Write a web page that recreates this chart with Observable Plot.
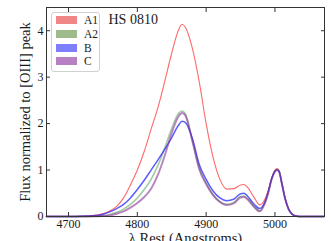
<!DOCTYPE html>
<html>
<head>
<meta charset="utf-8">
<script src="https://cdn.jsdelivr.net/npm/d3@7"></script>
<script src="https://cdn.jsdelivr.net/npm/@observablehq/plot@0.6"></script>
<style>
  html, body { margin: 0; padding: 0; background: #fff; }
  #wrap { position: relative; width: 331px; height: 241px; overflow: hidden; font-family: 'Liberation Serif', serif; }
  #wrap svg text { font-family: 'Liberation Serif', serif; }
  #legend { position: absolute; left: 51px; top: 12px; width: 49px; height: 60px; box-sizing: border-box;
    border: 1px solid #d0d0d0; border-radius: 3px; background: rgba(255,255,255,0.85); }
  .row { position: absolute; left: 4px; height: 8px; }
  .patch { position: absolute; left: 0; top: 0; width: 21px; height: 8px; }
  .lab { position: absolute; left: 28px; top: -3px; font-size: 11.5px; line-height: 14px; color: #1a1a1a; white-space: nowrap; font-family: 'Liberation Serif', serif; }
</style>
</head>
<body>
<div id="wrap"></div>
<script>
// ---- data ----
const wavelength = [4668, 4700, 4720, 4740, 4750, 4760, 4770, 4780, 4790, 4800, 4810, 4820, 4830, 4840, 4850, 4860, 4865, 4870, 4880, 4890, 4900, 4910, 4920, 4930, 4940, 4950, 4955, 4960, 4970, 4978, 4985, 4990, 4995, 5000, 5003, 5006, 5010, 5015, 5020, 5025, 5030, 5040, 5071];
const fluxA1 = [0, 0, 0.005, 0.03, 0.06, 0.12, 0.22, 0.40, 0.68, 1.00, 1.40, 1.88, 2.35, 2.92, 3.52, 4.02, 4.14, 4.07, 3.62, 2.90, 2.00, 1.28, 0.80, 0.59, 0.60, 0.68, 0.69, 0.63, 0.40, 0.25, 0.36, 0.55, 0.82, 1.00, 1.03, 0.99, 0.72, 0.38, 0.16, 0.05, 0.012, 0, 0];
const fluxA2 = [0, 0, 0.002, 0.01, 0.02, 0.045, 0.09, 0.16, 0.26, 0.40, 0.58, 0.80, 1.10, 1.48, 1.90, 2.22, 2.27, 2.20, 1.64, 1.04, 0.72, 0.47, 0.32, 0.26, 0.30, 0.43, 0.44, 0.39, 0.21, 0.12, 0.28, 0.50, 0.80, 0.98, 1.01, 0.98, 0.72, 0.38, 0.16, 0.05, 0.012, 0, 0];
const fluxB  = [0, 0, 0.004, 0.02, 0.05, 0.10, 0.17, 0.26, 0.40, 0.58, 0.78, 1.00, 1.22, 1.45, 1.70, 1.97, 2.05, 2.02, 1.68, 1.12, 0.80, 0.55, 0.40, 0.34, 0.37, 0.49, 0.50, 0.44, 0.26, 0.17, 0.30, 0.52, 0.80, 0.97, 1.00, 0.96, 0.71, 0.37, 0.15, 0.05, 0.012, 0, 0];
const fluxC  = [0, 0, 0, 0.005, 0.01, 0.025, 0.06, 0.11, 0.19, 0.29, 0.42, 0.60, 0.90, 1.32, 1.80, 2.16, 2.23, 2.17, 1.62, 1.02, 0.70, 0.46, 0.31, 0.245, 0.28, 0.41, 0.42, 0.37, 0.20, 0.11, 0.27, 0.49, 0.79, 0.97, 1.00, 0.97, 0.71, 0.37, 0.15, 0.05, 0.012, 0, 0];
const seriesNames = ["A1", "A2", "B", "C"];
const lineColors = ["#ff2a2a", "#2e8b2e", "#2525ff", "#8a3398"];
const legendColors = ["#f08686", "#9dbb8b", "#7f7ffd", "#b880c4"];
const xTicks = [4700, 4800, 4900, 5000];
const yTicks = [0, 1, 2, 3, 4];
const titleText = "HS 0810";
const xLabel = "λ Rest (Angstroms)";
const yLabel = "Flux normalized to [OIII] peak";

const fluxes = [fluxA1, fluxA2, fluxB, fluxC];
const rows = seriesNames.map((s, k) => wavelength.map((w, i) => ({w, f: fluxes[k][i], s})));
const widths = [1.1, 1.6, 1.5, 1.9];
const opac = [0.7, 0.45, 0.75, 0.6];

const ink = "#1a1a1a";
const serif = "'Liberation Serif', serif";
const chart = Plot.plot({
  width: 331, height: 241,
  marginLeft: 46, marginRight: 7, marginTop: 7, marginBottom: 25,
  x: {domain: [4668, 5072]},
  y: {domain: [0, 4.5]},
  style: {fontFamily: serif, fontSize: "12px", color: ink, background: "white", overflow: "visible"},
  marks: [
    ...rows.map((r, k) => Plot.line(r, {x: "w", y: "f", stroke: lineColors[k], strokeWidth: widths[k], strokeOpacity: opac[k], curve: "monotone-x"})),
    Plot.frame({stroke: "#333", strokeWidth: 1}),
    Plot.axisX(xTicks, {anchor: "bottom", tickSize: -4, tickPadding: 7, tickFormat: d => String(d), label: null, stroke: "#333", fontFamily: serif, fontSize: 12}),
    Plot.axisX(xTicks, {anchor: "top", tickSize: -4, tickFormat: () => "", label: null, stroke: "#333"}),
    Plot.axisY(yTicks, {anchor: "left", tickSize: -4, tickPadding: 7, tickFormat: d => String(d), label: null, stroke: "#333", fontFamily: serif, fontSize: 12}),
    Plot.axisY(yTicks, {anchor: "right", tickSize: -4, tickFormat: () => "", label: null, stroke: "#333"}),
    Plot.text([xLabel], {frameAnchor: "bottom", text: d => d, dy: 16, lineAnchor: "top", textAnchor: "middle", fontSize: 14.5, fontFamily: serif, fill: ink}),
    Plot.text([yLabel], {frameAnchor: "left", text: d => d, dx: -21, rotate: -90, lineAnchor: "middle", textAnchor: "middle", fontSize: 14.5, fontFamily: serif, fill: ink}),
    Plot.text([titleText], {frameAnchor: "top-left", text: d => d, dx: 62, dy: 7, textAnchor: "start", lineAnchor: "top", fontSize: 14, fontFamily: serif, fill: ink})
  ]
});
const wrap = document.getElementById("wrap");
wrap.appendChild(chart);

const legend = document.createElement("div");
legend.id = "legend";
seriesNames.forEach((s, k) => {
  const row = document.createElement("div");
  row.className = "row";
  row.style.top = (3 + k * 13.8) + "px";
  const p = document.createElement("div");
  p.className = "patch";
  p.style.background = legendColors[k];
  const t = document.createElement("div");
  t.className = "lab";
  t.textContent = s;
  row.appendChild(p); row.appendChild(t);
  legend.appendChild(row);
});
wrap.appendChild(legend);
</script>
</body>
</html>
